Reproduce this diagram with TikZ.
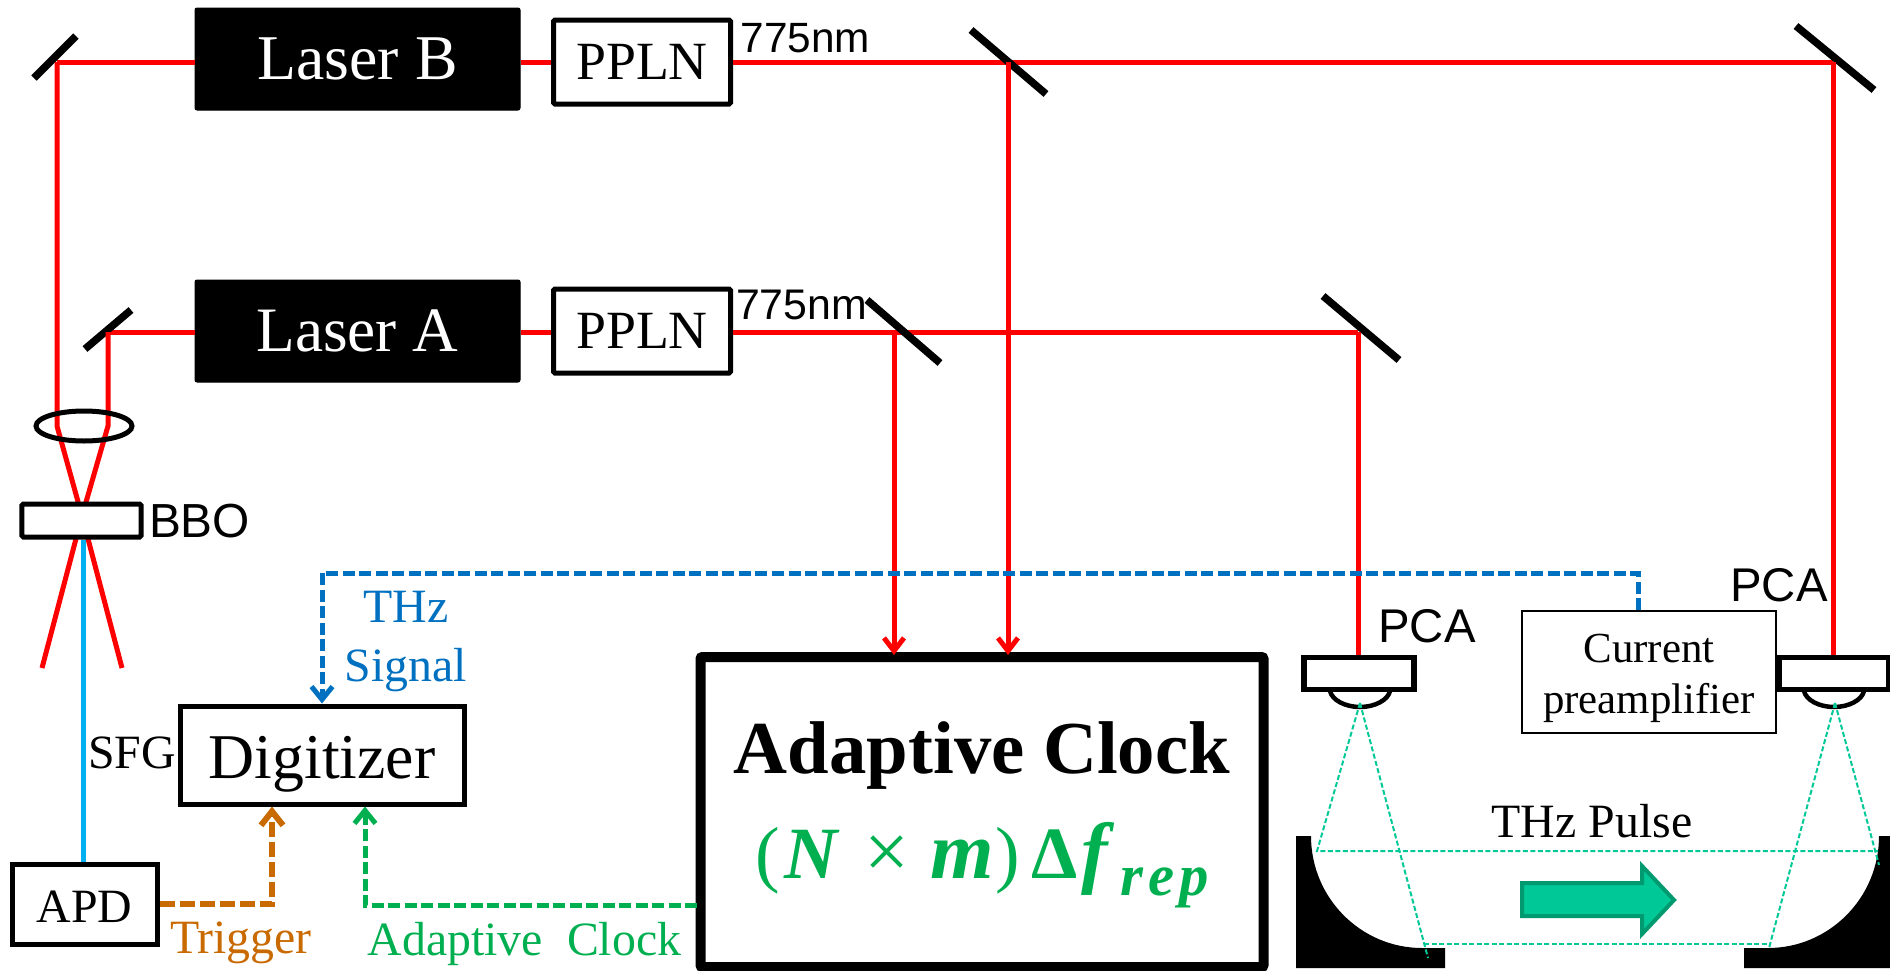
\documentclass[tikz,border=0pt]{standalone}
\usepackage{fontspec}
\setmainfont{Liberation Serif}
\newfontfamily\arialf{Liberation Sans}
\usetikzlibrary{arrows.meta,shapes.geometric}
\newcommand{\fs}[1]{\fontsize{#1}{#1}\selectfont}
\definecolor{beamred}{HTML}{FF0000}
\definecolor{sfgblue}{HTML}{00B0F0}
\definecolor{sigblue}{HTML}{0070C0}
\definecolor{trigor}{HTML}{C96A00}
\definecolor{clkgreen}{HTML}{00B050}
\definecolor{thzgreen}{HTML}{00C896}
\definecolor{thzdark}{HTML}{009970}
\tikzset{
  beam/.style={draw=beamred,line width=5bp},
  beamarrow/.style={beam,shorten >=-3bp,-{Straight Barb[length=13bp,width=20bp,line width=5bp]}},
  mirror/.style={draw=black,line width=7.5bp},
  laserbox/.style={draw=black,fill=black,text=white,rounded corners=2bp,inner sep=0pt,line width=1bp,minimum width=325bp,minimum height=102bp},
  pplnbox/.style={draw=black,fill=white,rounded corners=1.5bp,inner sep=0pt,line width=5bp,minimum width=177bp,minimum height=84bp,font=\fs{54}},
  plainbox/.style={draw=black,fill=white,inner sep=0pt,line width=5bp},
  lab/.style={inner sep=0pt,anchor=base},
  sanslab/.style={lab,font=\arialf\fs{47.5}},
  dashsig/.style={draw=sigblue,line width=5bp,dash pattern=on 12bp off 4.5bp},
  dashtrig/.style={draw=trigor,line width=6bp,dash pattern=on 15bp off 5bp},
  dashclk/.style={draw=clkgreen,line width=5bp,dash pattern=on 12bp off 4.5bp},
  thinthz/.style={draw=thzgreen,line width=2bp,dash pattern=on 5bp off 2.5bp},
  barb/.style={-{Straight Barb[length=13bp,width=21bp,line width=5bp]}},
}
\begin{document}
\begin{tikzpicture}[x=1bp,y=-1bp]
\useasboundingbox (0,0) rectangle (1890,970);
% nodes that beams run between
\node[laserbox,font=\fs{64}] (laserB) at (357.5,59) {\raisebox{-3.5bp}{Laser B}};
\node[laserbox,font=\fs{63.5}] (laserA) at (357.5,331) {\raisebox{-3.5bp}{Laser A}};
\node[pplnbox] (pplnB) at (642,62) {\raisebox{-2bp}{PPLN}};
\node[pplnbox] (pplnA) at (642,331) {\raisebox{-2bp}{PPLN}};
\node[plainbox,line width=10bp,rounded corners=2bp,minimum width=563bp,minimum height=310bp] (clock) at (982,812) {};
\node[plainbox,minimum width=284bp,minimum height=98bp] (digit) at (322,755) {};
\node[plainbox,minimum width=144bp,minimum height=80bp] (apd) at (85,904) {};
\node[plainbox,line width=2bp,minimum width=254bp,minimum height=122bp] (preamp) at (1649,672) {};
% reflection points
\coordinate (hitTL) at (57,62);
\coordinate (hitAL) at (108,332);
\coordinate (hitBM) at (1008,62);
\coordinate (hitAM) at (894,332);
\coordinate (hitBR) at (1833,62);
\coordinate (hitAR) at (1358,332);
\coordinate (lensL) at (57,426);
\coordinate (lensR) at (108,426);
\coordinate (crossing) at (82,516);
\coordinate (endL) at (42,668);
\coordinate (endR) at (122,668);
% beams, horizontal parts
\draw[beam] (laserB.west |- hitTL) -- (hitTL);
\draw[beam] (laserB.east |- hitTL) -- (pplnB.west |- hitTL);
\draw[beam] (pplnB.east |- hitTL) -- (hitBR);
\draw[beam] (laserA.west |- hitAL) -- (hitAL);
\draw[beam] (laserA.east |- hitAL) -- (pplnA.west |- hitAL);
\draw[beam] (pplnA.east |- hitAL) -- (hitAR);
% mirrors
\draw[mirror] (34,78) -- (76,36);
\draw[mirror] (85,349) -- (131,310);
\draw[mirror] (971,30) -- (1046,94);
\draw[mirror] (867,300) -- (940,363);
\draw[mirror] (1796,26) -- (1874,90);
\draw[mirror] (1323,296) -- (1399,360);
% beams, vertical parts
\draw[beam] (hitTL) -- (lensL) -- (crossing) -- (endR);
\draw[beam] (hitAL) -- (lensR) -- (crossing) -- (endL);
\node[ellipse,draw=black,line width=5bp,inner sep=0pt,minimum width=96bp,minimum height=30bp] (lens) at (84,426) {};
\node[plainbox,rounded corners=1.5bp,minimum width=119bp,minimum height=33bp] (bbo) at (81.5,520.5) {};
\node[sanslab,font=\arialf\fs{48}] (bbol) at (199.5,537) {BBO};
\draw[draw=sfgblue,line width=5bp] (bbo.south -| 83,0) -- (apd.north -| 83,0);
\draw[beamarrow] (hitAM) -- (hitAM |- clock.north);
\draw[beamarrow] (hitBM) -- (hitBM |- clock.north);
% PCAs
\draw[line width=4.5bp] (1330,691) .. controls (1332,700) and (1345,707) .. (1360,707) .. controls (1375,707) and (1388,700) .. (1390,691);
\draw[line width=4.5bp] (1804,691) .. controls (1806,700) and (1819,707) .. (1834,707) .. controls (1849,707) and (1862,700) .. (1864,691);
\node[plainbox,line width=5.5bp,minimum width=110bp,minimum height=32bp] (pcaL) at (1359,673.5) {};
\node[plainbox,line width=5.5bp,minimum width=110bp,minimum height=32bp] (pcaR) at (1834,673.5) {};
\draw[beam] (hitAR) -- (hitAR |- pcaL.north);
\draw[beam] (hitBR) -- (hitBR |- pcaR.north);
\node[sanslab] (pcaLl) at (1427,642) {PCA};
\node[sanslab] (pcaRl) at (1779,601) {PCA};
% parabolic mirrors
\fill[black] (1296,836) -- (1311,836) .. controls (1311,898) and (1361,948) .. (1422,948) -- (1445,948) -- (1445,968) -- (1296,968) -- cycle;
\fill[black] (1890,836) -- (1879,836) .. controls (1879,898) and (1829,948) .. (1768,948) -- (1744,948) -- (1744,968) -- (1890,968) -- cycle;
% THz rays
\coordinate (apexL) at (1360,703);
\coordinate (apexR) at (1835,703);
\draw[thinthz] (apexL) -- (1317,851) -- (1878,851);
\draw[thinthz] (apexL) -- (1428,958);
\draw[thinthz] (apexR) -- (1879,865);
\draw[thinthz] (apexR) -- (1769,948);
\draw[thinthz] (1424,944) -- (1769,944);
% THz arrow
\draw[draw=thzdark,fill=thzgreen,line width=4bp,miter limit=10] (1522,883) -- (1642,883) -- (1642,866) -- (1674,900) -- (1642,934) -- (1642,916) -- (1522,916) -- cycle;
\node[lab,font=\fs{48}] (thzp) at (1592,837) {THz Pulse};
% dashed signals
\coordinate (sigx) at (1638,0);
\coordinate (sigcorner) at (322,573);
\draw[dashsig,barb] (preamp.north -| sigx) |- (sigcorner) -- (digit.north);
\coordinate (trigx) at (272,0);
\draw[dashtrig,-{Straight Barb[length=14bp,width=22bp,line width=6bp]}] (apd.east) -| (digit.south -| trigx);
\coordinate (clkout) at (697,905);
\coordinate (clkx) at (365,0);
\draw[dashclk,barb] (clkout) -| (digit.south -| clkx);
% box texts
\node[lab,font=\fs{64}] (digl) at (digit.center |- 0,778) {Digitizer};
\node[lab,font=\fs{48}] (apdl) at (84.5,922) {APD};
\node[lab,font=\fs{48}] (sfg) at (132,768) {SFG};
\node[lab,font=\fs{48},text=trigor] (trig) at (241,953) {Trigger};
\node[lab,font=\fs{48},text=clkgreen] (aclk) at (524.5,955) {Adaptive\hspace{0.25em} Clock};
\node[lab,font=\fs{48},text=sigblue] (thz) at (406,622) {THz};
\node[lab,font=\fs{48},text=sigblue] (sig) at (406,681) {Signal};
\node[lab,font=\fs{43}] (cur) at (1649,662) {Current};
\node[lab,font=\fs{43}] (pre) at (1649,713) {preamplifier};
\node[lab,font=\bfseries\fs{75}] (cklab) at (982,773) {Adaptive Clock};
\node[inner sep=0pt,anchor=base west,font=\fs{74},text=clkgreen] (cklab2) at (755,878) {(\kern5bp{\bfseries\itshape N}\kern26bp{\fs{80}×}\kern22bp{\bfseries\itshape\fs{82}m}\kern1bp)\kern11bp{\bfseries Δ}\kern4bp{\bfseries\itshape\fs{80}f}\kern13bp\raisebox{-17bp}{\bfseries\itshape\fs{59}r\kern5bp e\kern5bp p}};
\node[lab,font=\arialf\fs{42.5}] (nmB) at (805.5,52) {775nm};
\node[lab,font=\arialf\fs{43}] (nmA) at (801.5,319) {775nm};
\end{tikzpicture}
\end{document}
